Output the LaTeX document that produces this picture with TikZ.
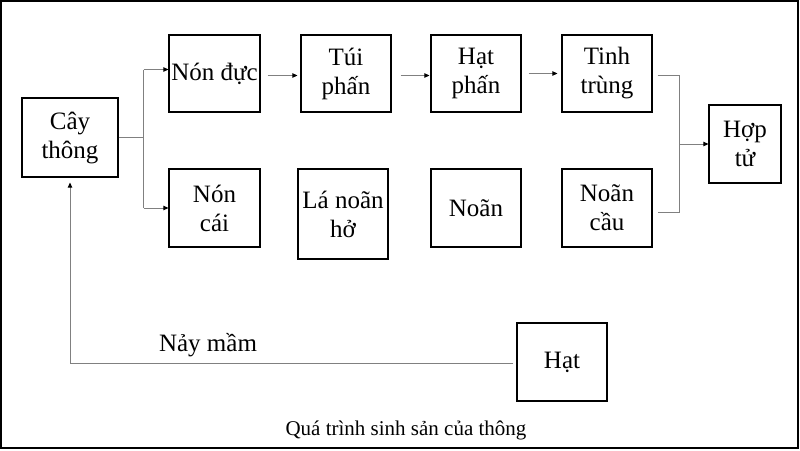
\documentclass[tikz,border=0pt]{standalone}
\usepackage{fontspec}
\setmainfont{Liberation Serif}
\usetikzlibrary{arrows.meta,positioning,calc}

\begin{document}
\begin{tikzpicture}[x=1pt, y=-1pt,
    box/.style={draw, line width=1.2pt, inner sep=0pt, align=center,
        minimum width=90pt, minimum height=78pt, font=\fontsize{25}{29}\selectfont},
    link/.style={draw=gray, line width=0.8pt},
    arr/.style={link, -{Triangle[length=5pt, width=4.5pt, color=black]}}]
    \useasboundingbox (0,0) rectangle (800,450);
    \draw[line width=2pt] (1,1) rectangle (798,448);
    % Boxes
    \node[box, minimum width=96pt, minimum height=79pt] (cay) at (70,137.5) {Cây\\thông};
    \node[box, minimum width=91pt, minimum height=77pt] (nonduc) at (214.5,73.5) {Nón đực};
    \node[box, minimum height=77pt] (tui) at (346,73.5) {Túi\\phấn};
    \node[box, minimum height=77pt] (hatphan) at (476,73.5) {Hạt\\phấn};
    \node[box, minimum height=77pt] (tinh) at (607,73.5) {Tinh\\trùng};
    \node[box, minimum width=91pt] (noncai) at (214.5,208) {Nón\\cái};
    \node[box, minimum height=90pt] (lanoan) at (343,214) {Lá noãn\\hở};
    \node[box] (noan) at (476,208) {Noãn};
    \node[box] (noancau) at (607,208) {Noãn\\cầu};
    \node[box, minimum width=72pt] (hoptu) at (745,144) {Hợp\\tử};
    \node[box] (hat) at (562,362) {Hạt};
    % Split from Cay thong
    \coordinate (nd in) at ([yshift=4pt]nonduc.west);
    \draw[link] (cay.east) -- ++(25,0) coordinate (split);
    \draw[link] (split |- nd in) -- (split |- noncai.west);
    \draw[arr] (split |- nd in) -- (nd in);
    \draw[arr] (split |- noncai.west) -- (noncai.west);
    % Top row chain
    \draw[arr, shorten <=7pt, shorten >=3pt] ([yshift=-2pt]nonduc.east) -- ([yshift=-2pt]tui.west);
    \draw[arr, shorten <=9pt, shorten >=1pt] ([yshift=-2pt]tui.east) -- ([yshift=-2pt]hatphan.west);
    \draw[arr, shorten <=7pt, shorten >=4pt] (hatphan.east) -- (tinh.west);
    % Join into Hop tu
    \coordinate (join) at (679,144);
    \coordinate (tt out) at ([xshift=5pt, yshift=-2pt]tinh.east);
    \coordinate (nc out) at ([xshift=5pt, yshift=-4pt]noancau.east);
    \draw[link] (tt out) -- (join |- tt out) -- (join |- nc out) -- (nc out);
    \draw[arr] (join |- hoptu.west) -- (hoptu.west);
    % Germination back to Cay thong
    \draw[arr] ([xshift=-3pt, yshift=-1pt]hat.west) -| ([yshift=-5pt]cay.south);
    \node[font=\fontsize{25}{29}\selectfont] (naymam) at (208,345) {Nảy mầm};
    \node[font=\fontsize{21}{25}\selectfont] (caption) at (406,430) {Quá trình sinh sản của thông};
\end{tikzpicture}
\end{document}
